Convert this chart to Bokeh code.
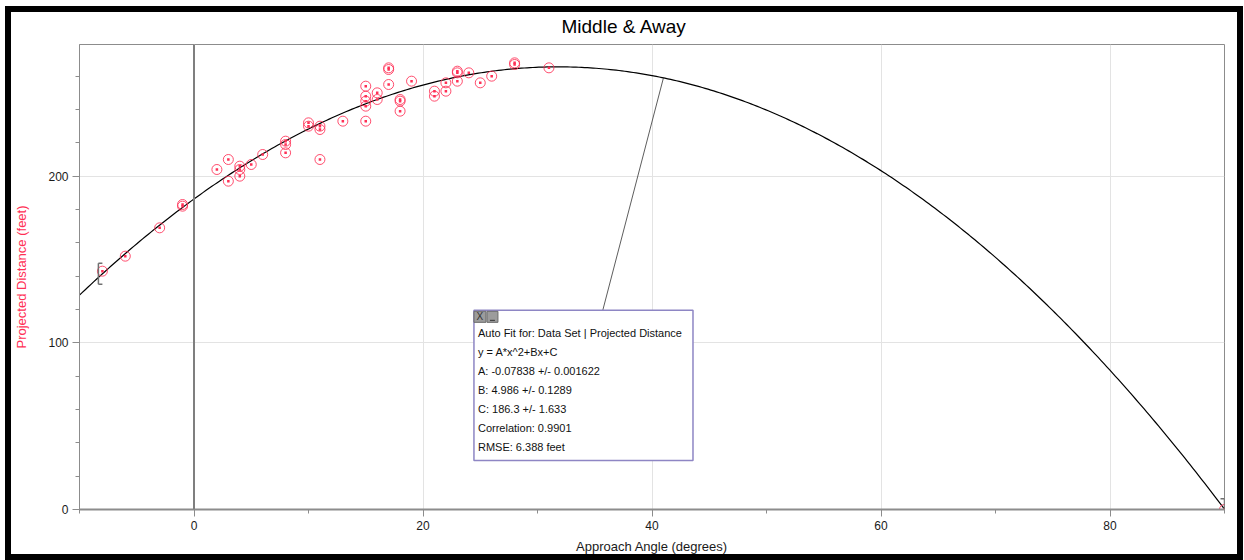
import numpy as np
from bokeh.plotting import figure
from bokeh.models import Range1d, SingleIntervalTicker, Span, ColumnDataSource
from bokeh.embed import file_html
from bokeh.resources import INLINE
from bokeh.core.properties import value

# ---------------- data ----------------
angle = [-8, -6, -3, -1, -1, 2, 3, 3, 4, 4, 4, 5, 6, 8, 8, 8, 10, 10, 11, 11, 11,
         13, 15, 15, 15, 15, 15, 16, 16, 17, 17, 17, 18, 18, 18, 19, 21, 21, 22, 22,
         23, 23, 23, 24, 25, 26, 28, 28, 31, 90]
distance = [143, 152, 169, 182, 183, 204, 210, 197, 206, 204, 200, 207, 213, 221, 219,
            214, 232, 230, 230, 228, 210, 233, 254, 248, 245, 242, 233, 250, 246, 265,
            264, 255, 246, 245, 239, 257, 251, 248, 256, 251, 263, 262, 257, 262, 256,
            260, 268, 267, 265, 0]

fit_names = ["A", "B", "C"]
fit_values = [-0.07838, 4.986, 186.3]
fit_errors = ["0.001622", "0.1289", "1.633"]
fit_value_text = ["-0.07838", "4.986", "186.3"]
correlation = "0.9901"
rmse = "6.388"
fit_range = [-8, 90]
x_ticks_major = 20
y_ticks_major = 100
title_text = "Middle & Away"

FONT = "Liberation Sans"
RED = "#ff2f55"

X0, X1, Y0, Y1 = -10, 90, 0, 279
p = figure(width=1238, height=554, output_backend="svg", toolbar_location=None,
           x_range=Range1d(X0, X1), y_range=Range1d(Y0, Y1),
           min_border_left=74, min_border_right=19, min_border_top=38,
           min_border_bottom=51, title=title_text)
p.styles = {"margin-left": "5px", "margin-top": "6px", "background": "white",
            "box-shadow": "inset 0 0 0 6px black"}
p.background_fill_color = "white"
p.border_fill_color = None
p.outline_line_color = "#8c8c8c"
p.outline_line_width = 1

p.title.text_font = FONT
p.title.text_font_size = "19px"
p.title.text_font_style = "normal"
p.title.text_color = "black"
p.title.align = "left"
p.title.offset = 482
p.title.vertical_align = "middle"
p.title.standoff = 13

px_x = (X1 - X0) / 1145.0   # data units per px (x)
px_y = (Y1 - Y0) / 465.0    # data units per px (y)

# axes
p.xaxis.ticker = SingleIntervalTicker(interval=x_ticks_major, num_minor_ticks=2)
p.yaxis.ticker = SingleIntervalTicker(interval=y_ticks_major, num_minor_ticks=5)
p.xgrid.ticker = SingleIntervalTicker(interval=x_ticks_major)
p.ygrid.ticker = SingleIntervalTicker(interval=y_ticks_major)
for ax in (p.xaxis[0], p.yaxis[0]):
    ax.major_label_text_font = FONT
    ax.major_label_text_font_size = "12px"
    ax.major_label_text_color = "#1a1a1a"
    ax.axis_label_text_font = FONT
    ax.axis_label_text_font_size = "13px"
    ax.axis_label_text_font_style = "normal"
    ax.major_tick_out = 7
    ax.major_tick_in = 0
    ax.minor_tick_out = 4
    ax.minor_tick_in = 0
    ax.major_tick_line_color = "#8c8c8c"
    ax.minor_tick_line_color = "#8c8c8c"
    ax.axis_line_color = "#8c8c8c"
    ax.major_label_standoff = 4
    ax.axis_label_standoff = 6
p.xaxis.axis_label = "Approach Angle (degrees)"
p.xaxis.axis_label_text_color = "#1a1a1a"
p.xaxis.axis_line_width = 2
p.yaxis.axis_label = "Projected Distance (feet)"
p.yaxis.axis_label_text_color = RED
p.yaxis.axis_label_standoff = 16
p.grid.grid_line_color = "#e3e3e3"
p.grid.grid_line_width = 1

p.add_layout(Span(location=0, dimension="height", line_color="#7f7f7f", line_width=2))

# fit curve
A, B, C = fit_values
xs = np.linspace(X0, X1, 400)
p.line(xs, A * xs**2 + B * xs + C, line_color="black", line_width=1.2)

# data points
src = ColumnDataSource(dict(x=angle, y=distance))
p.scatter("x", "y", source=src, size=10, marker="circle", fill_color=None,
          line_color=RED, line_width=1, line_alpha=0.85)
p.scatter("x", "y", source=src, size=2.5, marker="square", fill_color=RED,
          line_color=None)

# fit range brackets
fx0, fx1 = fit_range
y0 = A * fx0**2 + B * fx0 + C
y1 = A * fx1**2 + B * fx1 + C
h = 10.5 * px_y
bw = 4 * px_x
p.segment(x0=[fx0 - bw, fx0 - bw, fx0 - bw], y0=[y0 - h, y0 - h, y0 + h],
          x1=[fx0 - bw, fx0, fx0], y1=[y0 + h, y0 - h, y0 + h],
          line_color="#707070", line_width=1.5)
p.segment(x0=[fx1, fx1 - bw, fx1 - bw], y0=[y1 - h, y1 - h, y1 + h],
          x1=[fx1, fx1, fx1], y1=[y1 + h, y1 - h, y1 + h],
          line_color="#707070", line_width=1.5)

# annotation box
box_l, box_r = 24.45, 43.58
box_t, box_b = 119.5, 29.4
anchor_x = 41.0
p.line([anchor_x, 35.7], [A * anchor_x**2 + B * anchor_x + C, box_t],
       line_color="#333333", line_width=0.8)
p.quad(left=[box_l], right=[box_r], top=[box_t], bottom=[box_b],
       fill_color="white", fill_alpha=1, line_color="#8e86c4", line_width=1.5,
       level="overlay")
# small buttons
p.quad(left=[box_l, box_l + 13 * px_x], right=[box_l + 12 * px_x, box_l + 24 * px_x],
       top=[box_t - 1 * px_y] * 2, bottom=[box_t - 12 * px_y] * 2,
       fill_color="#9c9c9c", line_color="#6a6a6a", line_width=1, level="overlay")
p.text(x=[box_l + 6 * px_x], y=[box_t - 6.5 * px_y], text=["X"],
       text_font=value(FONT), text_font_size="10px", text_color="#333333",
       text_align="center", text_baseline="middle", level="overlay")
p.segment(x0=[box_l + 16 * px_x], y0=[box_t - 10 * px_y],
          x1=[box_l + 21 * px_x], y1=[box_t - 10 * px_y],
          line_color="#333333", line_width=1, level="overlay")

lines = ["Auto Fit for: Data Set | Projected Distance", "y = A*x^2+Bx+C"]
for n, v, e in zip(fit_names, fit_value_text, fit_errors):
    lines.append(f"{n}: {v} +/- {e}")
lines.append(f"Correlation: {correlation}")
lines.append(f"RMSE: {rmse} feet")
ty = [box_t - (23 + 19 * i) * px_y for i in range(len(lines))]
p.text(x=[box_l + 4 * px_x] * len(lines), y=ty, text=lines,
       text_font=value(FONT), text_font_size="11px", text_color="#111111",
       text_baseline="middle", level="overlay")

html = file_html(p, INLINE)
html = html.replace("<body>", '<body style="margin:0;background:#ececec">', 1)
open("out.html", "w").write(html)
